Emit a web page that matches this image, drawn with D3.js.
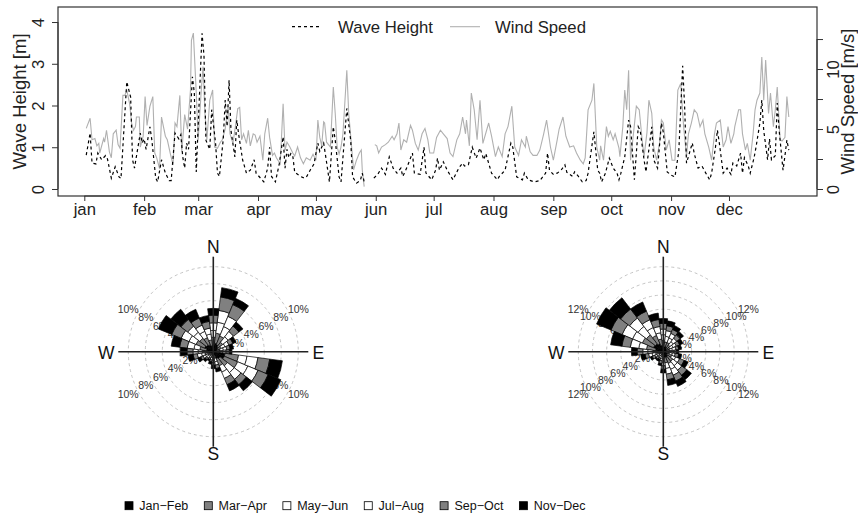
<!DOCTYPE html>
<html><head><meta charset="utf-8">
<script src="https://cdn.jsdelivr.net/npm/d3@7"></script>
<style>
body{margin:0;background:#fff}
svg{display:block}
text{font-family:"Liberation Sans",Arial,Helvetica,sans-serif}
</style>
</head><body>
<svg id="c" width="858" height="519"></svg>
<script>
// ---------------- DATA ----------------
const months = ["jan","feb","mar","apr","may","jun","jul","aug","sep","oct","nov","dec"];
const waveTicks = [0,1,2,3,4];
const windTicks = [0,2.5,5,7.5,10,12.5];
const windTickLabels = ["0","","5","","10",""];

// day offset from 1 Jan, wave height [m] (null = gap)
const waveDay = [1,3,4,6,7,9,11,12,14,16,18,19,22,24,25,26,29,30,31,32,34,35,37,38,40,42,44,45,47,49,50,51,52,53,54,56,57,58,61,62,63,65,66,68,69,70,72,73,74,75,76,78,79,80,82,84,86,88,89,93,95,96,97,99,101,103,104,105,106,107,108,109,112,114,115,117,119,121,122,124,125,127,129,130,132,133,136,138,139,141,143,144,145,147,150,152,154,156,158,160,162,164,165,167,170,171,174,176,177,180,182,183,184,186,188,191,194,196,197,199,201,203,205,207,208,211,214,215,218,221,222,224,227,228,230,233,236,239,240,241,243,245,247,249,250,253,254,256,258,260,261,264,266,267,268,270,272,274,276,277,278,280,282,283,285,287,288,290,291,294,295,297,299,300,302,304,306,308,310,311,312,315,316,318,320,322,324,325,327,328,329,331,333,335,336,338,340,341,342,344,345,347,348,350,351,352,354,355,356,358,359,360,362,363,364,365];
const waveHeight = [0.81,1.34,0.62,0.60,0.86,0.70,0.80,0.72,0.26,0.53,0.29,0.25,2.57,2.20,0.70,0.50,1.34,1.10,1.20,0.95,1.49,1.17,0.26,0.17,0.70,0.38,0.20,0.20,1.34,1.20,1.30,0.77,0.50,1.10,0.95,2.69,2.30,0.41,3.73,3.20,1.17,0.95,1.90,1.10,0.38,0.30,1.20,2.13,1.50,2.61,1.40,0.77,1.65,1.30,0.70,0.38,0.45,0.70,0.38,0.17,0.50,1.00,0.30,0.17,0.60,1.25,0.50,0.95,0.75,0.85,0.80,0.40,0.30,0.26,0.28,0.45,0.60,1.10,0.90,1.10,0.80,0.17,1.49,1.17,0.29,0.17,1.93,1.17,0.29,0.14,0.20,0.38,0.17,null,0.26,0.35,0.50,0.35,0.77,0.50,0.38,0.50,0.30,0.50,0.86,0.38,0.35,1.00,0.38,0.22,0.45,0.74,0.45,0.65,0.45,0.22,0.50,0.62,0.55,0.58,1.00,0.74,0.98,0.70,0.85,0.38,0.22,0.30,0.45,1.10,1.00,0.29,0.22,0.38,0.22,0.17,0.20,0.38,0.86,0.45,0.35,0.38,0.45,0.58,0.40,0.30,0.41,0.30,0.17,0.20,0.38,1.37,0.45,0.38,0.17,0.38,0.74,0.50,0.38,0.22,0.38,0.77,1.65,1.50,0.22,1.49,1.40,0.70,0.41,1.49,0.70,0.50,1.58,1.35,0.41,0.33,0.29,0.90,2.95,2.00,0.62,1.10,0.85,0.50,0.55,0.38,0.22,0.38,1.00,1.41,1.10,0.38,0.50,0.35,0.62,0.55,0.86,0.38,0.75,0.55,0.38,0.75,1.00,1.58,2.13,1.40,0.70,1.20,0.70,0.80,2.06,1.40,0.45,0.80,1.17,0.93];

// day offset from 1 Jan, wind speed [m/s] (null = gap)
const windDay = [1,3,4,5.5,6.5,7.5,8,10,10.5,11.5,13,14,15,16.5,17.5,18.5,20,21,22,23.5,24.5,25.5,26.5,27,28.5,29,30.5,31.5,32.5,34,35.5,36.5,37.5,39,40,42,43,44.5,46,47,48,49.5,50.5,52,53.5,55,55.5,56.5,58,59,60.5,61.5,62.5,63.5,65,66.5,67.5,69,70.5,71.5,73,74.5,75.5,77,78,79.5,80.5,81.5,82.5,84,85,86,87.5,88.5,89.5,91,92.5,93.5,95,96,97.5,98.5,99.5,101.5,103,104,105,106.5,108,109,110.5,112,113.5,115,117,118.5,120,121,122,123,124,124.5,125.5,127.5,129,130,131,132,133,134,136,137,138.5,139.5,141,142.5,143.5,144,145,147,150.5,151.5,152.5,154,156,157.5,159.5,160.5,162,163,164,165.5,167,169,170,171.5,173,175,176.5,178,179,181,182.5,184.5,186,188,189.5,191,193,194.5,196,197.5,198,199.5,200.5,202,203.5,205,206.5,209.5,211,213,214.5,216.5,218,219.5,221.5,223,225,226.5,228.5,229,231,232.5,234.5,236,238,239.5,241.5,243,245,246,248,249.5,251.5,253.5,255,257,258.5,259.5,261,263,264,265.5,267,267.5,269,270.5,271.5,272.5,274,275,277,277.5,279,280,281,282,283,284.5,286,287.5,289,290,291.5,292.5,294,295,296.5,298,299,300,301.5,303,304.5,306,307.5,309,310.5,312,313,314.5,316,317.5,319,320.5,321.5,323.5,325,326.5,327.5,329.5,331,332.5,333.5,335,336.5,337,339,340,341,342.5,343.5,345,346.5,347.5,348.5,350,351,352,353,354.5,355.5,357,358,359,360.5,361.5,363,364,365];
const windSpeed = [5.05,5.9,4.1,4.2,3.6,3.8,3.0,4.2,3.9,4.9,3.1,2.6,4.6,4.9,3.7,3.4,7.8,7.8,8.25,7.1,5.5,4.9,5.2,6.0,6.0,3.5,4.4,7.7,5.3,6.9,7.7,3.0,2.6,1.7,6.0,4.4,4.1,3.0,2.0,5.5,5.2,7.8,3.1,6.2,5.0,8.25,12.4,13.0,8.0,4.1,8.0,10.2,6.3,4.1,7.4,8.25,3.5,3.4,3.9,4.1,5.0,6.9,4.6,3.8,4.9,6.7,6.8,4.1,4.6,3.8,4.9,3.6,4.6,4.5,3.9,4.4,2.4,4.6,5.9,4.3,2.8,3.0,2.6,2.1,7.1,3.25,3.9,3.5,3.0,2.75,3.5,2.6,2.1,2.6,2.4,2.9,2.4,5.75,4.3,3.6,5.6,5.5,3.9,3.5,8.5,6.3,3.5,2.9,3.5,4.6,9.9,6.3,3.5,1.6,2.4,3.0,3.25,1.6,0.2,null,3.7,3.6,3.0,3.5,3.7,3.9,4.4,4.1,4.6,5.5,3.25,4.1,3.9,5.3,4.9,3.8,3.25,4.6,5.05,4.1,3.0,3.0,4.3,4.9,4.6,4.2,3.0,2.7,4.1,4.6,6.0,4.6,5.75,3.6,8.0,6.6,4.1,7.4,3.8,5.5,4.4,2.7,3.5,2.7,4.6,5.2,6.9,3.5,2.8,4.1,3.5,4.4,3.1,2.8,2.8,3.25,4.6,5.75,3.5,2.4,4.1,5.0,6.0,4.4,3.5,3.6,3.0,2.4,2.1,2.6,6.6,7.4,8.8,3.5,2.4,3.6,2.4,5.2,4.4,4.8,4.1,4.6,3.4,2.7,5.2,8.25,6.6,9.9,2.4,4.6,6.9,6.6,4.1,2.7,4.7,7.4,6.3,3.5,2.4,3.8,5.75,5.5,3.25,4.1,2.4,2.4,8.25,8.8,5.2,2.7,4.6,5.5,6.6,6.3,5.2,5.75,4.6,3.5,2.4,4.6,5.5,5.75,3.5,4.1,5.2,3.8,4.6,5.2,6.6,6.6,4.6,3.25,3.8,2.4,4.6,6.6,7.4,8.0,11.0,7.4,10.75,6.3,8.0,5.2,6.6,8.5,4.1,4.0,4.3,7.7,6.0];

// wind roses: direction sectors (deg) and frequency [%] per two-month period
const directions = [0,15,30,45,60,75,90,105,120,135,150,165,180,195,210,225,240,255,270,285,300,315,330,345];
const periods = ["Jan\u2212Feb","Mar\u2212Apr","May\u2212Jun","Jul\u2212Aug","Sep\u2212Oct","Nov\u2212Dec"];
const leftJanFeb = [0.8,1.0,0.9,0.7,0.5,0.4,0.4,1.4,1.4,1.0,0.9,0.4,0.3,0.2,0.2,0.2,0.3,0.5,0.6,0.8,1.1,1.0,0.9,0.7];
const leftMarApr = [0.9,1.2,1.1,0.7,0.5,0.4,0.4,1.6,1.7,1.1,0.9,0.4,0.4,0.3,0.2,0.3,0.4,0.5,0.7,0.8,1.1,1.0,0.9,0.7];
const leftMayJun = [0.8,1.3,1.2,0.8,0.5,0.4,0.3,1.0,1.3,1.0,0.8,0.4,0.3,0.2,0.2,0.2,0.3,0.4,0.5,0.7,0.9,0.9,0.8,0.7];
const leftJulAug = [0.9,1.4,1.3,0.8,0.5,0.4,0.4,1.3,1.3,1.0,0.8,0.4,0.3,0.3,0.2,0.3,0.3,0.5,0.6,0.8,1.0,0.9,0.8,0.7];
const leftSepOct = [0.9,1.6,1.5,0.8,0.5,0.4,0.4,1.4,1.3,0.8,0.8,0.4,0.3,0.2,0.2,0.2,0.3,0.5,0.7,0.9,1.2,1.0,0.9,0.8];
const leftNovDec = [0.8,1.1,0.8,0.6,0.4,0.4,0.3,1.5,1.6,0.9,0.8,0.4,0.4,0.3,0.2,0.3,0.4,0.6,0.8,1.0,1.7,1.5,1.1,0.7];
const rightJanFeb = [0.8,0.7,0.7,0.6,0.5,0.4,0.4,0.4,0.6,0.8,0.9,0.8,0.5,0.3,0.2,0.3,0.3,0.5,0.7,1.1,1.5,1.4,1.2,0.9];
const rightMarApr = [0.8,0.7,0.7,0.6,0.5,0.5,0.4,0.5,0.7,0.9,0.9,0.8,0.5,0.4,0.3,0.2,0.4,0.6,0.8,1.3,1.7,1.6,1.3,0.9];
const rightMayJun = [0.8,0.8,0.7,0.6,0.5,0.4,0.3,0.4,0.6,0.8,0.9,0.8,0.5,0.3,0.2,0.3,0.3,0.5,0.7,1.1,1.5,1.5,1.2,0.9];
const rightJulAug = [0.8,0.8,0.7,0.6,0.5,0.5,0.4,0.4,0.6,0.8,0.9,0.8,0.5,0.3,0.3,0.2,0.3,0.5,0.7,1.2,1.6,1.5,1.2,0.9];
const rightSepOct = [0.8,0.7,0.6,0.6,0.5,0.4,0.4,0.5,0.7,0.9,0.9,0.8,0.5,0.4,0.2,0.3,0.4,0.5,0.8,1.2,1.7,1.6,1.3,1.0];
const rightNovDec = [0.7,0.7,0.6,0.6,0.5,0.4,0.3,0.4,0.6,0.8,0.8,0.8,0.5,0.3,0.3,0.2,0.3,0.6,0.8,1.6,2.2,2.0,1.4,0.9];
const leftRings = [2,4,6,8,10];
const rightRings = [2,4,6,8,10,12];
const compass = ["N","E","S","W"];

// ---------------- DRAWING ----------------
const svg = d3.select("#c");
const P = {l:58, r:817, t:7, b:196};
const base = Date.UTC(2011,0,1);
const dd = d => new Date(base + d*864e5);
const x = d3.scaleUtc().domain([dd(-13.63), dd(379.6)]).range([P.l, P.r]);
const yWave = d3.scaleLinear().domain([-0.168, 4.36]).range([P.b, P.t]);
const yWind = d3.scaleLinear().domain([-0.583, 15.17]).range([P.b, P.t]);

const windLine = d3.line().defined(i => windSpeed[i] != null)
  .x(i => x(dd(windDay[i]))).y(i => yWind(windSpeed[i]));
const waveLine = d3.line().defined(i => waveHeight[i] != null)
  .x(i => x(dd(waveDay[i]))).y(i => yWave(waveHeight[i]));
svg.append("path").attr("d", windLine(d3.range(windDay.length)))
  .attr("fill","none").attr("stroke","#b0b0b0").attr("stroke-width",1.1);
svg.append("path").attr("d", waveLine(d3.range(waveDay.length)))
  .attr("fill","none").attr("stroke","#000").attr("stroke-width",1.2).attr("stroke-dasharray","3,3");

svg.append("rect").attr("x",P.l).attr("y",P.t).attr("width",P.r-P.l).attr("height",P.b-P.t)
  .attr("fill","none").attr("stroke","#333").attr("stroke-width",1.2);

const fs = 16.7;
const gL = svg.append("g").attr("transform",`translate(${P.l},0)`)
  .call(d3.axisLeft(yWave).tickValues(waveTicks).tickSize(6).tickFormat(d3.format("d")));
gL.select(".domain").attr("d", `M0,${yWave(0)}H0V${yWave(4)}`).attr("stroke","#333");
gL.selectAll(".tick line").attr("stroke","#333");
gL.selectAll("text").attr("x",null).attr("dy","0.35em").attr("text-anchor","middle")
  .attr("transform","translate(-20,0) rotate(-90)").style("font-size",fs+"px").attr("fill","#222");
gL.attr("font-family",null);

const gR = svg.append("g").attr("transform",`translate(${P.r},0)`)
  .call(d3.axisRight(yWind).tickValues(windTicks).tickSize(6).tickFormat((d,i)=>windTickLabels[i]));
gR.select(".domain").attr("d", `M0,${yWind(0)}H0V${yWind(12.5)}`).attr("stroke","#333");
gR.selectAll(".tick line").attr("stroke","#333");
gR.selectAll("text").attr("x",null).attr("dy","0.35em").attr("text-anchor","middle")
  .attr("transform","translate(16,0) rotate(-90)").style("font-size",fs+"px").attr("fill","#222");
gR.attr("font-family",null);

const monthDates = d3.utcMonth.range(dd(0), dd(365));
const gB = svg.append("g").attr("transform",`translate(0,${P.b})`)
  .call(d3.axisBottom(x).tickValues(monthDates).tickSize(5).tickFormat((d,i)=>months[i]));
gB.select(".domain").attr("d", `M${x(monthDates[0])},0H${x(monthDates[11])}`).attr("stroke","#333");
gB.selectAll(".tick line").attr("stroke","#333");
gB.selectAll("text").attr("y",19).attr("dy",null).style("font-size",fs+"px").attr("fill","#222");
gB.attr("font-family",null);

svg.append("text").attr("transform",`translate(20,${(P.t+P.b)/2}) rotate(-90)`).attr("dy","0.35em")
  .attr("text-anchor","middle").style("font-size","18.5px").attr("fill","#222").text("Wave Height [m]");
svg.append("text").attr("transform",`translate(848,${(P.t+P.b)/2}) rotate(-90)`).attr("dy","0.35em")
  .attr("text-anchor","middle").style("font-size","18.5px").attr("fill","#222").text("Wind Speed [m/s]");

svg.append("line").attr("x1",292).attr("x2",320).attr("y1",26.7).attr("y2",26.7)
  .attr("stroke","#000").attr("stroke-width",1.2).attr("stroke-dasharray","3,3");
svg.append("text").attr("x",338).attr("y",32.7).style("font-size",fs+"px").attr("fill","#222").text("Wave Height");
svg.append("line").attr("x1",450).attr("x2",480).attr("y1",26.7).attr("y2",26.7)
  .attr("stroke","#b0b0b0").attr("stroke-width",1.1);
svg.append("text").attr("x",495).attr("y",32.7).style("font-size",fs+"px").attr("fill","#222").text("Wind Speed");

const fills = ["#000","#808080","#fff","#fff","#808080","#000"];
const keys = d3.range(6);
function drawRose(id, cx, cy, cols, rings) {
  const g = svg.append("g");
  const maxR = rings[rings.length-1];
  const r = d3.scaleLinear().domain([0, maxR]).range([0, 85]);
  g.append("clipPath").attr("id",id).append("rect")
    .attr("x",cx-96).attr("y",cy-100).attr("width",192).attr("height",200);
  const inner = g.append("g").attr("clip-path",`url(#${id})`);
  inner.selectAll("circle").data(rings).join("circle")
    .attr("cx",cx).attr("cy",cy).attr("r",d=>r(d))
    .attr("fill","none").attr("stroke","#bdbdbd").attr("stroke-width",0.9).attr("stroke-dasharray","3,3");
  const ang = Math.PI/6;
  const lab = [];
  rings.forEach(v => { [[1,-1],[1,1],[-1,-1],[-1,1]].forEach(s => lab.push({v, sx:s[0], sy:s[1]})); });
  inner.selectAll("text").data(lab).join("text")
    .attr("x",d=>cx + d.sx*(r(d.v)*Math.cos(ang)+1))
    .attr("y",d=>cy + d.sy*r(d.v)*Math.sin(ang))
    .attr("dy","0.35em").attr("text-anchor",d=>d.sx>0?"start":"end")
    .style("font-size","10.5px").attr("fill","#333").text(d=>d.v+"%");
  const rows = directions.map((d,i)=>{ const o={dir:d}; cols.forEach((c,k)=>o[k]=c[i]); return o; });
  const series = d3.stack().keys(keys)(rows);
  const arc = d3.arc();
  const half = 7.5*Math.PI/180;
  series.forEach((s,k) => {
    inner.append("g").attr("transform",`translate(${cx},${cy})`)
      .selectAll("path").data(s).join("path")
      .attr("d", d => arc({innerRadius:r(d[0]), outerRadius:r(d[1]),
        startAngle:d.data.dir*Math.PI/180-half, endAngle:d.data.dir*Math.PI/180+half}))
      .attr("fill",fills[k]).attr("stroke","#000").attr("stroke-width",0.7);
  });
  g.append("line").attr("x1",cx).attr("x2",cx).attr("y1",cy-95).attr("y2",cy+95).attr("stroke","#222").attr("stroke-width",1.6);
  g.append("line").attr("x1",cx-95).attr("x2",cx+95).attr("y1",cy).attr("y2",cy).attr("stroke","#222").attr("stroke-width",1.6);
  const pos = [[0,-105],[105,1],[0,102],[-107,1]];
  g.selectAll("text.cmp").data(compass).join("text").attr("class","cmp")
    .attr("x",(d,i)=>cx+pos[i][0]).attr("y",(d,i)=>cy+pos[i][1]).attr("dy","0.36em")
    .attr("text-anchor","middle").style("font-size","17.5px").attr("fill","#111").text(d=>d);
}
drawRose("clipL", 213.3, 351.7, [leftJanFeb,leftMarApr,leftMayJun,leftJulAug,leftSepOct,leftNovDec], leftRings);
drawRose("clipR", 663.3, 351.7, [rightJanFeb,rightMarApr,rightMayJun,rightJulAug,rightSepOct,rightNovDec], rightRings);

const lg = svg.append("g");
let lx = 125;
periods.forEach((p,k) => {
  lg.append("rect").attr("x",lx).attr("y",501.7).attr("width",8).attr("height",8)
    .attr("fill",fills[k]).attr("stroke","#000").attr("stroke-width",0.8);
  const t = lg.append("text").attr("x",lx+14.3).attr("y",510).style("font-size","12.5px").attr("fill","#111").text(p);
  lx += 14.3 + t.node().getComputedTextLength() + 16;
});
</script>
</body></html>
